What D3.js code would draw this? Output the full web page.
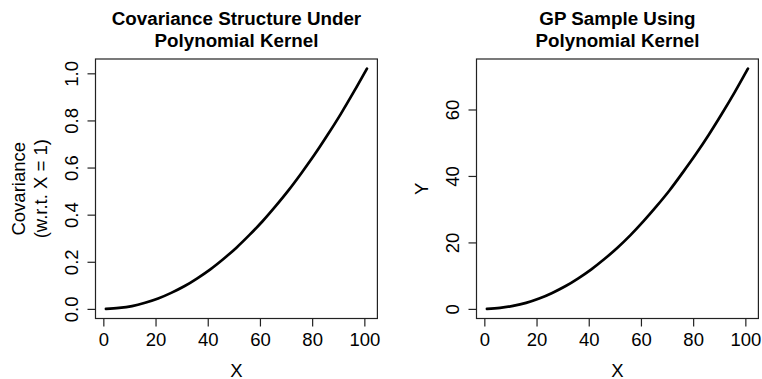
<!DOCTYPE html>
<html>
<head>
<meta charset="utf-8">
<script src="https://cdn.jsdelivr.net/npm/d3@7"></script>
<style>
  html, body { margin: 0; padding: 0; background: #fff; }
  svg { display: block; }
  text { font-family: "Liberation Sans", Arial, Helvetica, sans-serif; fill: #000; }
</style>
</head>
<body>
<svg id="chart" width="762" height="379"></svg>
<script>
// Input positions (X = 1 ... 101, every 5)
const xValues = [1, 6, 11, 16, 21, 26, 31, 36, 41, 46, 51, 56, 61, 66, 71, 76, 81, 86, 91, 96, 101];

// Covariance of each X with X = 1 under the polynomial kernel
const covValues = [0.000, 0.004, 0.012, 0.026, 0.044, 0.068, 0.096, 0.130, 0.168, 0.212, 0.260,
                   0.314, 0.372, 0.436, 0.504, 0.578, 0.656, 0.740, 0.828, 0.922, 1.020];

// One GP draw using the same kernel
const gpValues = [0.0, 0.3, 0.9, 1.8, 3.1, 4.8, 6.8, 9.2, 11.9, 15.0, 18.4,
                  22.2, 26.4, 30.9, 35.7, 41.0, 46.5, 52.4, 58.7, 65.3, 72.3];

const xTicks = [0, 20, 40, 60, 80, 100];
const covTicks = [0.0, 0.2, 0.4, 0.6, 0.8, 1.0];
const gpTicks = [0, 20, 40, 60];

const panels = [
  { title: ["Covariance Structure Under", "Polynomial Kernel"],
    ylab: ["Covariance", "(w.r.t. X = 1)"], y: covValues, yTicks: covTicks,
    fmt: d3.format(".1f"), left: 95.5, right: 377.4 },
  { title: ["GP Sample Using", "Polynomial Kernel"],
    ylab: ["Y"], y: gpValues, yTicks: gpTicks,
    fmt: d3.format("d"), left: 476.5, right: 758.4 }
];

const plotTop = 59, plotBottom = 318.5;
const labelSize = 18.5;
const svg = d3.select("#chart");

// R-style axis range: data extent padded by 4% on each side
function padded(ext) {
  const r = ext[1] - ext[0];
  return [ext[0] - 0.04 * r, ext[1] + 0.04 * r];
}

panels.forEach(p => {
  const g = svg.append("g");
  const x = d3.scaleLinear().domain(padded(d3.extent(xValues))).range([p.left, p.right]);
  const y = d3.scaleLinear().domain(padded(d3.extent(p.y))).range([plotBottom, plotTop]);
  const cx = (p.left + p.right) / 2;
  const cy = (plotTop + plotBottom) / 2;

  // curve
  const pts = xValues.map((v, i) => [v, p.y[i]]);
  g.append("path")
    .datum(pts)
    .attr("fill", "none")
    .attr("stroke", "#000")
    .attr("stroke-width", 2.7)
    .attr("stroke-linecap", "round")
    .attr("stroke-linejoin", "round")
    .attr("d", d3.line().x(d => x(d[0])).y(d => y(d[1])).curve(d3.curveMonotoneX));

  // plot frame
  g.append("rect")
    .attr("x", p.left).attr("y", plotTop)
    .attr("width", p.right - p.left).attr("height", plotBottom - plotTop)
    .attr("fill", "none").attr("stroke", "#222").attr("stroke-width", 1.2);

  // x axis
  const xa = g.append("g").attr("transform", `translate(0,${plotBottom})`)
    .call(d3.axisBottom(x).tickValues(xTicks).tickSize(8).tickPadding(5).tickSizeOuter(0));
  xa.select(".domain").remove();
  xa.selectAll("line").attr("stroke", "#222").attr("stroke-width", 1.2);
  xa.selectAll("text").attr("font-size", labelSize).attr("y", 27.5).attr("dy", null);

  // y axis (labels rotated, as in base R)
  const ya = g.append("g").attr("transform", `translate(${p.left},0)`)
    .call(d3.axisLeft(y).tickValues(p.yTicks).tickFormat(p.fmt).tickSize(8).tickSizeOuter(0));
  ya.select(".domain").remove();
  ya.selectAll("line").attr("stroke", "#222").attr("stroke-width", 1.2);
  ya.selectAll("text")
    .attr("font-size", labelSize)
    .attr("x", null).attr("dy", null)
    .attr("text-anchor", "middle")
    .attr("transform", "translate(-17.5,0) rotate(-90)");

  // titles
  p.title.forEach((t, i) => {
    g.append("text").attr("x", cx).attr("y", 25 + i * 22)
      .attr("text-anchor", "middle").attr("font-size", 18.8).attr("font-weight", "bold").text(t);
  });

  // axis labels
  g.append("text").attr("x", cx).attr("y", 376.5)
    .attr("text-anchor", "middle").attr("font-size", labelSize).text("X");
  const n = p.ylab.length;
  p.ylab.forEach((t, i) => {
    const bx = p.left - 49 - (n - 1 - i) * 21.5;
    g.append("text").attr("transform", `translate(${bx},${cy}) rotate(-90)`)
      .attr("text-anchor", "middle").attr("font-size", labelSize).text(t);
  });
});
</script>
</body>
</html>
